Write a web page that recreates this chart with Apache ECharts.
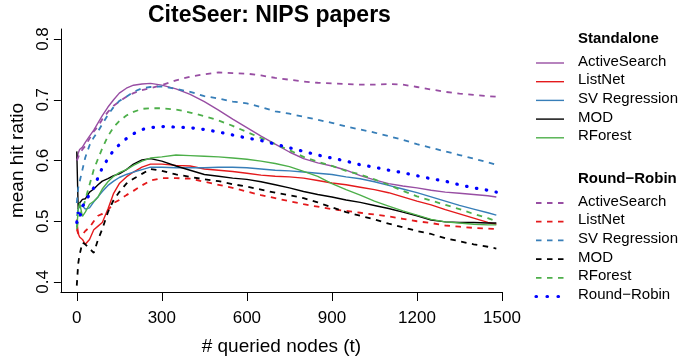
<!DOCTYPE html>
<html>
<head>
<meta charset="utf-8">
<script src="https://cdn.jsdelivr.net/npm/echarts@6/dist/echarts.min.js"></script>
<style>html,body{margin:0;padding:0;background:#fff}#c{width:681px;height:361px}</style>
</head>
<body>
<div id="c"></div>
<script>
var FONT = '"Liberation Sans", Arial, Helvetica, sans-serif';

var tValues = [0,5,10,20,30,45,60,75,90,110,130,150,175,200,230,260,300,350,400,450,500,550,600,650,700,750,800,850,900,950,1000,1050,1100,1150,1200,1250,1300,1350,1400,1450,1480];

var xTicks = [0,300,600,900,1200,1500];
var yTicks = [0.4,0.5,0.6,0.7,0.8];

// Standalone
var activeSearch = [0.600,0.612,0.618,0.622,0.630,0.640,0.650,0.662,0.674,0.688,0.700,0.711,0.719,0.724,0.726,0.727,0.724,0.718,0.709,0.697,0.683,0.668,0.654,0.640,0.627,0.614,0.603,0.596,0.591,0.584,0.575,0.568,0.562,0.558,0.555,0.551,0.548,0.546,0.544,0.542,0.540];
var listNet = [0.503,0.480,0.474,0.470,0.462,0.470,0.486,0.492,0.498,0.520,0.546,0.562,0.573,0.581,0.589,0.594,0.594,0.592,0.591,0.586,0.584,0.582,0.579,0.576,0.574,0.573,0.571,0.567,0.563,0.560,0.556,0.552,0.547,0.540,0.533,0.527,0.519,0.512,0.505,0.498,0.495];
var svRegression = [0.509,0.520,0.525,0.525,0.520,0.522,0.532,0.540,0.549,0.559,0.566,0.572,0.577,0.581,0.585,0.589,0.589,0.588,0.588,0.588,0.589,0.589,0.588,0.586,0.584,0.583,0.581,0.579,0.577,0.573,0.570,0.565,0.559,0.553,0.547,0.540,0.533,0.526,0.520,0.514,0.510];
var mod = [0.615,0.520,0.530,0.536,0.537,0.548,0.553,0.560,0.566,0.570,0.575,0.578,0.585,0.594,0.601,0.603,0.599,0.591,0.584,0.577,0.574,0.571,0.569,0.565,0.560,0.555,0.549,0.544,0.540,0.535,0.531,0.526,0.521,0.515,0.509,0.502,0.499,0.498,0.498,0.497,0.497];
var rForest = [0.487,0.520,0.530,0.508,0.515,0.528,0.533,0.540,0.553,0.565,0.574,0.580,0.585,0.592,0.599,0.604,0.606,0.609,0.608,0.607,0.606,0.604,0.602,0.599,0.595,0.590,0.582,0.574,0.562,0.552,0.543,0.533,0.525,0.517,0.510,0.503,0.499,0.497,0.495,0.494,0.494];

// Round-Robin
var activeSearchRR = [0.600,0.605,0.612,0.618,0.624,0.636,0.648,0.656,0.668,0.680,0.690,0.697,0.705,0.711,0.716,0.719,0.724,0.732,0.738,0.742,0.745,0.744,0.743,0.740,0.736,0.733,0.730,0.728,0.727,0.726,0.725,0.725,0.726,0.725,0.721,0.717,0.713,0.710,0.708,0.706,0.705];
var listNetRR = [0.487,0.480,0.477,0.478,0.484,0.490,0.500,0.509,0.512,0.518,0.530,0.535,0.543,0.550,0.559,0.567,0.571,0.571,0.570,0.565,0.560,0.555,0.549,0.543,0.538,0.533,0.528,0.524,0.520,0.517,0.514,0.511,0.508,0.504,0.500,0.497,0.493,0.491,0.489,0.488,0.487];
var svRegressionRR = [0.530,0.555,0.565,0.585,0.605,0.625,0.638,0.648,0.660,0.675,0.688,0.698,0.705,0.713,0.719,0.721,0.722,0.718,0.713,0.706,0.702,0.697,0.694,0.688,0.681,0.677,0.672,0.667,0.662,0.656,0.651,0.646,0.640,0.634,0.627,0.621,0.615,0.609,0.603,0.597,0.593];
var modRR = [0.394,0.430,0.445,0.465,0.462,0.455,0.448,0.470,0.487,0.515,0.535,0.548,0.562,0.570,0.578,0.586,0.583,0.577,0.573,0.569,0.566,0.561,0.557,0.552,0.547,0.543,0.538,0.531,0.523,0.515,0.509,0.503,0.496,0.490,0.484,0.479,0.472,0.467,0.462,0.458,0.455];
var rForestRR = [0.490,0.500,0.510,0.520,0.535,0.560,0.585,0.603,0.620,0.640,0.655,0.665,0.674,0.680,0.685,0.686,0.686,0.684,0.679,0.673,0.666,0.657,0.647,0.637,0.627,0.617,0.606,0.598,0.591,0.583,0.577,0.569,0.560,0.550,0.541,0.534,0.527,0.520,0.512,0.505,0.500];
var roundRobin = [0.498,0.515,0.505,0.525,0.530,0.545,0.555,0.572,0.588,0.603,0.617,0.626,0.636,0.644,0.651,0.654,0.656,0.655,0.654,0.651,0.647,0.642,0.637,0.633,0.627,0.621,0.615,0.609,0.604,0.599,0.593,0.589,0.584,0.580,0.575,0.570,0.566,0.560,0.555,0.551,0.548];

var C = {purple:'#984EA3', red:'#E41A1C', blue:'#377EB8', black:'#000000', green:'#4DAF4A', rr:'#0000FF'};
var SOLID = {type:'solid', width:1.4};
var DASH = {type:[5.5,5.5], width:1.8};
var DOT = {type:[0.5,9.5], width:3.2, cap:'round'};

var seriesDefs = [
  {name:'ActiveSearch', data:activeSearch, color:C.purple, style:SOLID},
  {name:'ListNet', data:listNet, color:C.red, style:SOLID},
  {name:'SV Regression', data:svRegression, color:C.blue, style:SOLID},
  {name:'MOD', data:mod, color:C.black, style:SOLID},
  {name:'RForest', data:rForest, color:C.green, style:SOLID},
  {name:'ActiveSearch (RR)', data:activeSearchRR, color:C.purple, style:DASH},
  {name:'ListNet (RR)', data:listNetRR, color:C.red, style:DASH},
  {name:'SV Regression (RR)', data:svRegressionRR, color:C.blue, style:DASH},
  {name:'MOD (RR)', data:modRR, color:C.black, style:DASH},
  {name:'RForest (RR)', data:rForestRR, color:C.green, style:DASH},
  {name:'Round\u2212Robin', data:roundRobin, color:C.rr, style:DOT}
];

var series = seriesDefs.map(function(d){
  return {
    type:'line', name:d.name, showSymbol:false, symbol:'none', animation:false,
    data: tValues.map(function(t,i){ return [t, d.data[i]]; }),
    lineStyle: Object.assign({color:d.color}, d.style),
    itemStyle:{color:d.color}
  };
});

// legend drawn as graphics
var graphics = [];
function header(txt, y){
  graphics.push({type:'text', left:578, top:y-9, style:{text:txt, font:'bold 15px '+FONT, fill:'#000'}});
}
function item(txt, y, color, st){
  graphics.push({type:'line', shape:{x1:536,y1:y,x2:564,y2:y},
    style:{stroke:color, lineWidth:st.width, lineDash: st.type==='solid'?null:st.type, lineCap: st.cap||'butt'}});
  graphics.push({type:'text', left:578, top:y-9, style:{text:txt, font:'15px '+FONT, fill:'#000'}});
}
header('Standalone', 40);
var rowsA = [['ActiveSearch',C.purple],['ListNet',C.red],['SV Regression',C.blue],['MOD',C.black],['RForest',C.green]];
rowsA.forEach(function(r,i){ item(r[0], 63+i*18.7, r[1], SOLID); });
header('Round\u2212Robin', 180);
rowsA.forEach(function(r,i){ item(r[0], 203+i*18.7, r[1], DASH); });
item('Round\u2212Robin', 203+5*18.7, C.rr, {type:[0.5,10.5], width:3.2, cap:'round'});

var chart = echarts.init(document.getElementById('c'), null, {renderer:'canvas'});
chart.setOption({
  animation:false,
  backgroundColor:'#fff',
  textStyle:{fontFamily:FONT},
  title:{text:'CiteSeer: NIPS papers', left:148, top:4, padding:0,
    textStyle:{fontSize:23, fontWeight:'bold', color:'#000', fontFamily:FONT}},
  grid:{left:60, right:179, top:29, bottom:69, containLabel:false},
  xAxis:{type:'value', min:-56, max:1500,
    axisLine:{show:true, onZero:false, lineStyle:{color:'#000', width:1}},
    axisTick:{show:true, customValues:xTicks, length:9, lineStyle:{color:'#000'}},
    axisLabel:{customValues:xTicks, fontSize:17, color:'#000', margin:18, fontFamily:FONT,
      formatter:function(v){ return String(v); }},
    splitLine:{show:false},
    name:'# queried nodes (t)', nameLocation:'middle', nameGap:45,
    nameTextStyle:{fontSize:19, color:'#000', fontFamily:FONT}},
  yAxis:{type:'value', min:0.3835, max:0.8165,
    axisLine:{show:true, onZero:false, lineStyle:{color:'#000', width:1}},
    axisTick:{show:true, customValues:yTicks, length:7, lineStyle:{color:'#000'}},
    axisLabel:{customValues:yTicks, rotate:90, fontSize:17, color:'#000', margin:9, fontFamily:FONT,
      formatter:function(v){ return v.toFixed(1); }},
    splitLine:{show:false},
    name:'mean hit ratio', nameLocation:'middle', nameGap:32,
    nameTextStyle:{fontSize:19, color:'#000', fontFamily:FONT}},
  series:series,
  graphic:graphics
});
</script>
</body>
</html>
